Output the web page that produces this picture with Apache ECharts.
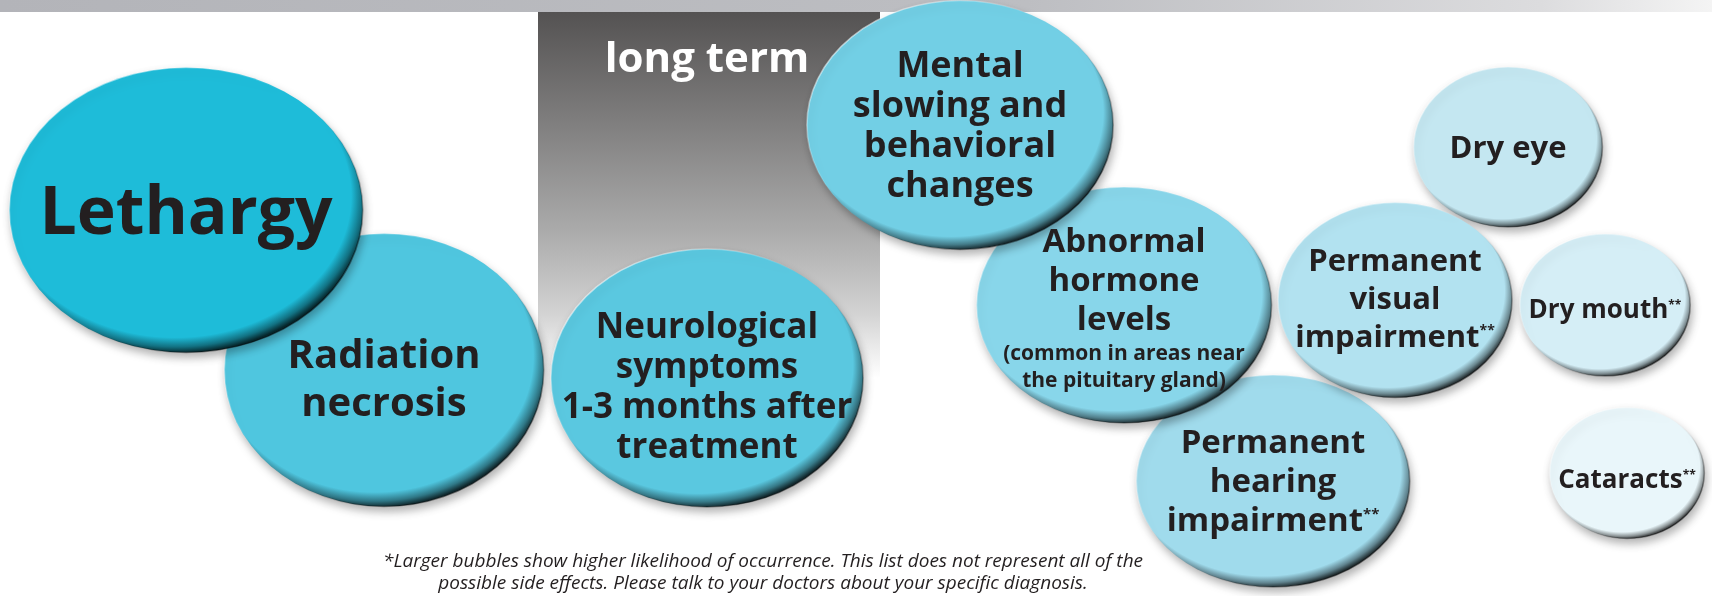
<!DOCTYPE html>
<html>
<head>
<meta charset="utf-8">
<script src="https://cdn.jsdelivr.net/npm/echarts@6/dist/echarts.min.js"></script>
<style>
  html, body { margin: 0; padding: 0; background: #ffffff; }
  #chart { width: 1712px; height: 596px; }
</style>
</head>
<body>
<div id="chart"></div>
<script>
// ---- data (drawing order: later items sit on top) ----
const labels = [
  'Radiation\nnecrosis',
  'Lethargy',
  'Neurological\nsymptoms\n1-3 months after\ntreatment',
  'Permanent\nhearing\nimpairment**',
  'Abnormal\nhormone\nlevels',
  'Mental\nslowing and\nbehavioral\nchanges',
  'Dry eye',
  'Permanent\nvisual\nimpairment**',
  'Dry mouth**',
  'Cataracts**'
];
const subLabels = ['', '', '', '', '(common in areas near\nthe pituitary gland)', '', '', '', '', ''];
const xValues = [384, 186, 707, 1273, 1124, 960, 1508, 1395, 1605, 1627];
const yValues = [370, 210, 378, 481, 305, 125, 147, 300, 305, 473];
const likelihood = [273, 285, 258, 212, 236, 249, 160, 195, 142, 131];
const headerText = 'long term';
const footnoteLines = [
  '*Larger bubbles show higher likelihood of occurrence. This list does not represent all of the',
  'possible side effects. Please talk to your doctors about your specific diagnosis.'
];

// ---- styles ----
const bubbleColors = ['#4fc6df', '#1ebcd9', '#5ac8e0', '#a0dbec', '#88d6ea', '#72cfe5', '#c4e7f1', '#b2e2f0', '#d5eef6', '#e9f6fa'];
const aspect      = [1.17, 1.24, 1.21, 1.29, 1.25, 1.23, 1.18, 1.2, 1.2, 1.18];
const fontSizes   = [40, 66, 35, 33, 33, 36, 31, 31, 26, 26];
const lineHeights = [48, 70, 40, 39, 39, 40, 38, 38, 30, 30];
const labelShiftY = [11, 5, 10, 2, 4, 2, 2, 0, 6, 8];
const FONT = '"Open Sans", "Noto Sans", sans-serif';
const TEXT = '#231f20';

function shade(hex, f) {
  const n = parseInt(hex.slice(1), 16);
  let r = (n >> 16) & 255, g = (n >> 8) & 255, b = n & 255;
  r = Math.round(r * f); g = Math.round(g * f); b = Math.round(b * f);
  return 'rgb(' + r + ',' + g + ',' + b + ')';
}

const seriesData = labels.map(function (lab, i) {
  const c = bubbleColors[i];
  return {
    name: lab.replace(/\n/g, ' '),
    value: [xValues[i], yValues[i], likelihood[i]],
    symbolSize: [likelihood[i] * aspect[i], likelihood[i]],
    itemStyle: {
      opacity: 1,
      color: {
        type: 'radial', x: 0.47, y: 0.45, r: 0.55,
        colorStops: [
          { offset: 0, color: c },
          { offset: 0.9, color: c },
          { offset: 0.96, color: shade(c, 0.6) },
          { offset: 1, color: shade(c, 0.2) }
        ]
      },
      borderWidth: 1.5,
      borderColor: {
        type: 'linear', x: 0, y: 0, x2: 1, y2: 1,
        colorStops: [
          { offset: 0, color: 'rgba(255,255,255,0.8)' },
          { offset: 0.45, color: 'rgba(255,255,255,0)' },
          { offset: 0.65, color: 'rgba(0,0,0,0.15)' },
          { offset: 1, color: 'rgba(0,0,0,0.7)' }
        ]
      },
      shadowBlur: 9,
      shadowColor: 'rgba(0,0,0,0.3)',
      shadowOffsetX: 2,
      shadowOffsetY: 5
    },
    label: {
      offset: [0, labelShiftY[i]],
      rich: {
        b: { fontFamily: FONT, fontWeight: 'bold', fontSize: fontSizes[i], lineHeight: lineHeights[i], color: TEXT },
        sup: { fontFamily: FONT, fontWeight: 'bold', fontSize: Math.round(fontSizes[i] * 0.45), lineHeight: lineHeights[i], verticalAlign: 'top', color: TEXT, padding: [Math.round(lineHeights[i] * 0.12), 0, 0, 0] },
        s: { fontFamily: FONT, fontWeight: 'bold', fontSize: 21, lineHeight: 27, color: TEXT }
      }
    }
  };
});

function formatLabel(p) {
  const i = p.dataIndex;
  const lines = labels[i].split('\n').map(function (l) {
    if (l.indexOf('**') >= 0) return '{b|' + l.replace('**', '') + '}{sup|**}';
    return '{b|' + l + '}';
  });
  if (subLabels[i]) {
    subLabels[i].split('\n').forEach(function (l) { lines.push('{s|' + l + '}'); });
  }
  return lines.join('\n');
}

const chart = echarts.init(document.getElementById('chart'), null, { renderer: 'canvas' });
chart.setOption({
  animation: false,
  backgroundColor: '#ffffff',
  grid: { left: 0, right: 0, top: 0, bottom: 0 },
  xAxis: { type: 'value', min: 0, max: 1712, show: false },
  yAxis: { type: 'value', min: 0, max: 596, inverse: true, show: false },
  graphic: [
    {
      type: 'rect', z: 0,
      shape: { x: 0, y: 0, width: 1712, height: 12 },
      style: {
        fill: {
          type: 'linear', x: 0, y: 0, x2: 1, y2: 0,
          colorStops: [
            { offset: 0, color: '#b3b4b9' },
            { offset: 0.6, color: '#bdbec2' },
            { offset: 0.9, color: '#dcdcde' },
            { offset: 1, color: '#f4f4f4' }
          ]
        }
      }
    },
    {
      type: 'rect', z: 0,
      shape: { x: 538, y: 12, width: 342, height: 366 },
      style: {
        fill: {
          type: 'linear', x: 0, y: 0, x2: 0, y2: 1,
          colorStops: [
            { offset: 0, color: '#545252' },
            { offset: 0.3, color: '#7f7e7e' },
            { offset: 0.6, color: '#ababab' },
            { offset: 0.82, color: '#d2d2d2' },
            { offset: 1, color: '#ffffff' }
          ]
        }
      }
    },
    {
      type: 'text', z: 1,
      style: {
        x: 707, y: 60, text: headerText, fill: '#ffffff',
        font: 'bold 42px ' + FONT, textAlign: 'center', textVerticalAlign: 'middle'
      }
    },
    {
      type: 'text', z: 1,
      style: {
        x: 763, y: 562, text: footnoteLines[0], fill: TEXT,
        font: 'italic 19px ' + FONT, textAlign: 'center', textVerticalAlign: 'middle'
      }
    },
    {
      type: 'text', z: 1,
      style: {
        x: 763, y: 584, text: footnoteLines[1], fill: TEXT,
        font: 'italic 19px ' + FONT, textAlign: 'center', textVerticalAlign: 'middle'
      }
    }
  ],
  series: [{
    type: 'scatter',
    symbol: 'circle',
    data: seriesData,
    itemStyle: { opacity: 1 },
    label: {
      show: true,
      position: 'inside',
      formatter: formatLabel,
      align: 'center',
      verticalAlign: 'middle'
    },
    emphasis: { disabled: true }
  }]
});
</script>
</body>
</html>
